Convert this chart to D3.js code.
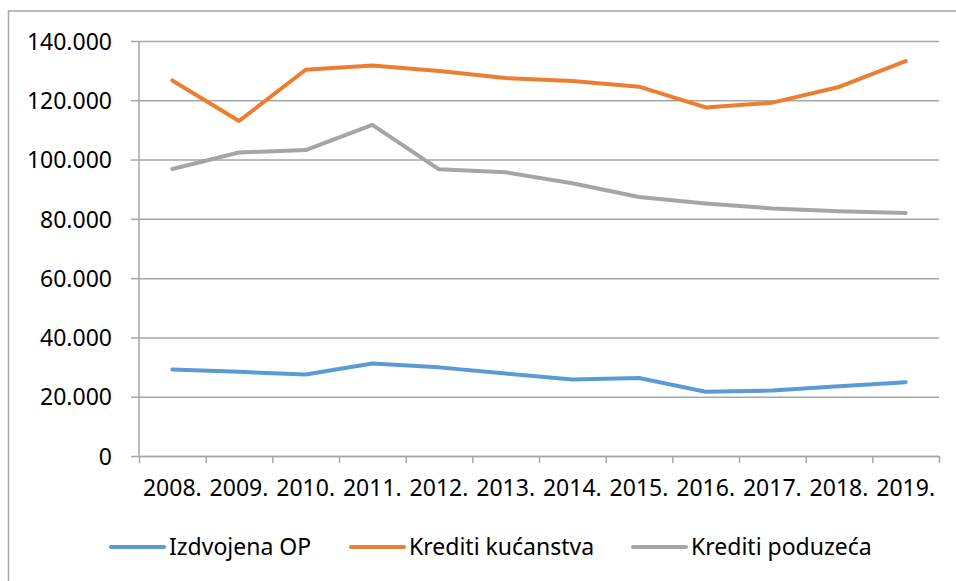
<!DOCTYPE html>
<meta charset="utf-8">
<style>
body { margin: 0; background: #fff; }
text { font-family: "Noto Sans", sans-serif; fill: #000; }
.grid line { stroke: #a6a6a6; stroke-width: 1.5px; }
.grid path { display: none; }
.axis path, .axis line { stroke: #a6a6a6; stroke-width: 1.5px; }
.series { fill: none; stroke-width: 4px; stroke-linejoin: round; stroke-linecap: round; }
</style>
<body>
<svg width="956" height="581"></svg>
<script src="https://d3js.org/d3.v7.min.js"></script>
<script>

var years = ["2008.", "2009.", "2010.", "2011.", "2012.", "2013.", "2014.", "2015.", "2016.", "2017.", "2018.", "2019."];
var izdvojenaOP = [29200, 28400, 27500, 31200, 29900, 27800, 25800, 26300, 21700, 22100, 23500, 24900];
var kreditiKucanstva = [126700, 113000, 130300, 131700, 129900, 127500, 126500, 124600, 117600, 119200, 124500, 133200];
var kreditiPoduzeca = [96800, 102400, 103200, 111700, 96700, 95700, 92000, 87400, 85200, 83500, 82600, 82000];
var yTicks = [0, 20000, 40000, 60000, 80000, 100000, 120000, 140000];

var seriesNames = ["Izdvojena OP", "Krediti kućanstva", "Krediti poduzeća"];
var colors = ["#5b9bd5", "#ed7d31", "#a5a5a5"];
var series = [izdvojenaOP, kreditiKucanstva, kreditiPoduzeca];

var svg = d3.select("svg"),
    margin = {top: 41, left: 139, right: 17},
    width = 956 - margin.left - margin.right,
    height = 415;

// chart frame
svg.append("rect")
    .attr("x", 8.5).attr("y", 11)
    .attr("width", 970).attr("height", 600)
    .attr("fill", "none")
    .attr("stroke", "#a6a6a6")
    .attr("stroke-width", 1.5);

var g = svg.append("g").attr("transform", "translate(" + margin.left + "," + margin.top + ")");

var x = d3.scaleBand().domain(years).range([0, width]);
var y = d3.scaleLinear().domain([0, 140000]).range([height, 0]);
var fmt = function(d) { return d === 0 ? "0" : d3.format(",")(d).replace(/,/g, "."); };

g.append("g")
    .attr("class", "grid")
    .call(d3.axisLeft(y).tickValues(yTicks).tickSize(-width).tickFormat(""));

var yAxis = g.append("g")
    .attr("class", "axis")
    .call(d3.axisLeft(y).tickValues(yTicks).tickSize(8).tickSizeOuter(0).tickPadding(19).tickFormat(fmt));
yAxis.select(".domain").remove();
yAxis.append("line").attr("x1", 0).attr("x2", 0).attr("y1", 0).attr("y2", height)
    .attr("stroke", "#a6a6a6").attr("stroke-width", 1.5);
yAxis.selectAll("text").style("font-size", "23px").attr("dy", "0.36em").attr("fill", "#000");

// bottom axis ticks on category boundaries
var edges = d3.scaleLinear().domain([0, years.length]).range([0, width]);
g.append("g")
    .attr("class", "axis")
    .attr("transform", "translate(0," + height + ")")
    .call(d3.axisBottom(edges).tickValues(d3.range(years.length + 1)).tickSize(7).tickSizeOuter(0).tickFormat(""));

var xLabels = g.append("g")
    .attr("transform", "translate(0," + height + ")")
    .call(d3.axisBottom(x).tickSize(0).tickPadding(24));
xLabels.select(".domain").remove();
xLabels.selectAll("text").style("font-size", "23px").attr("fill", "#000");

var line = d3.line()
    .x(function(d, i) { return x(years[i]) + x.bandwidth() / 2; })
    .y(function(d) { return y(d); });

series.forEach(function(s, i) {
  g.append("path")
      .datum(s)
      .attr("class", "series")
      .attr("stroke", colors[i])
      .attr("d", line);
});

// legend
var legendX = [111, 351, 633];
var legend = svg.append("g").attr("transform", "translate(0,547)");
seriesNames.forEach(function(name, i) {
  legend.append("line")
      .attr("x1", legendX[i]).attr("x2", legendX[i] + 53)
      .attr("stroke", colors[i])
      .attr("stroke-width", 4)
      .attr("stroke-linecap", "round");
  legend.append("text")
      .attr("x", legendX[i] + 58)
      .attr("dy", "0.36em")
      .style("font-size", "23px")
      .text(name);
});

</script>
</body>
